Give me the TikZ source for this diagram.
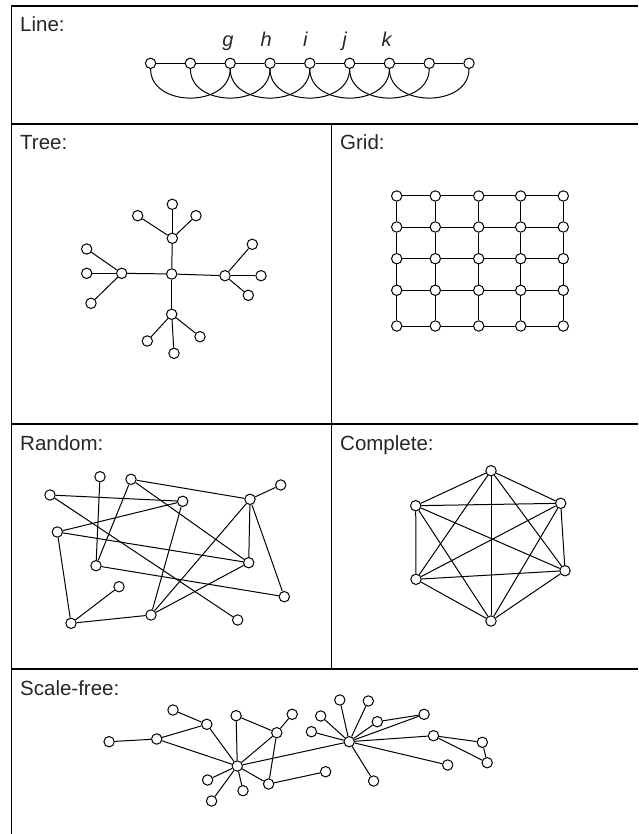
\documentclass[tikz,border=0pt]{standalone}
\usepackage{fontspec}
\setmainfont{Liberation Sans}
\begin{document}
\begin{tikzpicture}[x=1pt,y=-1pt,
  vtx/.style={circle,draw,fill=white,minimum size=10.4pt,inner sep=0pt,line width=1pt},
  edge/.style={line width=1pt},
  frame/.style={line width=1.5pt},
  lbl/.style={anchor=base west,inner sep=0pt,font=\fontsize{20.5}{24}\selectfont,text=black!85},
  ilbl/.style={anchor=base,inner sep=0pt,font=\fontsize{20}{24}\selectfont\itshape,text=black!85}]
\useasboundingbox (0,0) rectangle (638,834);
% frame
\draw[frame] (638,6) -- (11.7,6) -- (11.7,834);
\draw[frame] (11.7,124) -- (638,124);
\draw[frame] (11.7,424) -- (638,424);
\draw[frame] (11.7,669) -- (638,669);
\draw[frame] (331.5,124) -- (331.5,669);
% titles
\node[lbl] (tline) at (20,32) {Line:};
\node[lbl] (ttree) at (20,150) {Tree:};
\node[lbl] (tgrid) at (340,150) {Grid:};
\node[lbl] (trand) at (20,450) {Random:};
\node[lbl] (tcomp) at (340,450) {Complete:};
\node[lbl] (tscal) at (20,695) {Scale-free:};
% ---------- Line ----------
\foreach \i in {1,...,9} \node[vtx] (l\i) at ({150.6+39.8*(\i-1)},63.3) {};
\foreach \i/\j in {1/2,2/3,3/4,4/5,5/6,6/7,7/8,8/9} \draw[edge] (l\i) -- (l\j);
\foreach \i/\j in {1/3,2/4,3/5,4/6,5/7,6/8,7/9} \draw[edge] (l\i) to[out=-90,in=-90,looseness=1.25] (l\j);
\node[ilbl] (lg) at (227.9,47) {g};
\node[ilbl] (lh) at (266.2,47) {h};
\node[ilbl] (li) at (305.3,47) {i};
\node[ilbl] (lj) at (344.6,47) {j};
\node[ilbl] (lk) at (386.5,47) {k};
% ---------- Tree ----------
\node[vtx] (t0) at (171.7,274) {};
\node[vtx] (ta) at (172.3,238.3) {};
\node[vtx] (ta1) at (172.3,204.3) {};
\node[vtx] (ta2) at (137.7,215.7) {};
\node[vtx] (ta3) at (196,215.7) {};
\node[vtx] (tb) at (121.7,273.3) {};
\node[vtx] (tb1) at (86.7,249) {};
\node[vtx] (tb2) at (86.7,273.3) {};
\node[vtx] (tb3) at (91,303.3) {};
\node[vtx] (tc) at (225,275.7) {};
\node[vtx] (tc1) at (252.3,244.3) {};
\node[vtx] (tc2) at (261,275.7) {};
\node[vtx] (tc3) at (248.3,295.3) {};
\node[vtx] (td) at (171.7,314.3) {};
\node[vtx] (td1) at (147.3,341) {};
\node[vtx] (td2) at (174,353.3) {};
\node[vtx] (td3) at (200,336.7) {};
\foreach \c in {a,b,c,d} {
  \draw[edge] (t0) -- (t\c);
  \foreach \k in {1,2,3} \draw[edge] (t\c) -- (t\c\k);
}
% ---------- Grid ----------
\foreach \x [count=\c] in {396.7,435.3,478.7,520.7,563.3}
  \foreach \y [count=\r] in {196,227,258.7,290.3,326}
    \node[vtx] (g\c\r) at (\x,\y) {};
\foreach \c in {1,...,5}
  \foreach \r/\s in {1/2,2/3,3/4,4/5} {
    \draw[edge] (g\c\r) -- (g\c\s);
    \draw[edge] (g\r\c) -- (g\s\c);
  }
% ---------- Random ----------
\node[vtx] (rA) at (50,495) {};
\node[vtx] (rB) at (100,476.7) {};
\node[vtx] (rC) at (131,479.3) {};
\node[vtx] (rD) at (182.7,501.3) {};
\node[vtx] (rE) at (57.3,532) {};
\node[vtx] (rF) at (96,565.7) {};
\node[vtx] (rG) at (119,586.7) {};
\node[vtx] (rH) at (71,623.3) {};
\node[vtx] (rI) at (151,615) {};
\node[vtx] (rJ) at (237.7,620) {};
\node[vtx] (rK) at (250,499.3) {};
\node[vtx] (rL) at (280.7,485) {};
\node[vtx] (rM) at (248.7,562.7) {};
\node[vtx] (rN) at (284.3,596.7) {};
\foreach \a/\b in {A/D,A/J,B/F,C/F,C/K,C/M,D/E,D/I,E/M,E/H,F/N,G/H,H/I,I/K,I/M,K/L,K/M,K/N}
  \draw[edge] (r\a) -- (r\b);
% ---------- Complete ----------
\node[vtx] (k1) at (491,470.7) {};
\node[vtx] (k2) at (560.7,503.3) {};
\node[vtx] (k3) at (565,570.7) {};
\node[vtx] (k4) at (491,621) {};
\node[vtx] (k5) at (416,579.3) {};
\node[vtx] (k6) at (415.7,505.7) {};
\foreach \a/\b in {1/2,1/3,1/4,1/5,1/6,2/3,2/4,2/5,2/6,3/4,3/5,3/6,4/5,4/6,5/6}
  \draw[edge] (k\a) -- (k\b);
% ---------- Scale-free ----------
\node[vtx] (h1) at (237.3,766) {};
\node[vtx] (h2) at (349.2,741.7) {};
\node[vtx] (p1) at (109.1,741.7) {};
\node[vtx] (p2) at (156.7,739) {};
\node[vtx] (p3) at (173,710) {};
\node[vtx] (p4) at (206.8,724.3) {};
\node[vtx] (p5) at (236.1,715.7) {};
\node[vtx] (p6) at (292.2,714.3) {};
\node[vtx] (p7) at (276.8,732.7) {};
\node[vtx] (p8) at (207.6,780) {};
\node[vtx] (p9) at (211.6,801) {};
\node[vtx] (p10) at (243,790.7) {};
\node[vtx] (p11) at (268.6,784) {};
\node[vtx] (p12) at (325.6,771.7) {};
\node[vtx] (q1) at (320.7,716) {};
\node[vtx] (q2) at (339.8,700) {};
\node[vtx] (q3) at (368.3,701) {};
\node[vtx] (q4) at (311.4,731.7) {};
\node[vtx] (q5) at (377.3,721.7) {};
\node[vtx] (q6) at (424.1,714.3) {};
\node[vtx] (q7) at (433.5,735.7) {};
\node[vtx] (q8) at (482.3,742.3) {};
\node[vtx] (q9) at (487.2,762.7) {};
\node[vtx] (q10) at (447.7,765) {};
\node[vtx] (q11) at (373.6,781) {};
\foreach \a/\b in {p1/p2,p2/p4,p3/p4,p2/h1,p4/h1,p5/h1,p5/p7,p6/p7,p7/h1,p7/p11,h1/p8,h1/p9,h1/p10,h1/p11,p11/p12,h1/h2,
  h2/q1,h2/q2,h2/q3,h2/q4,h2/q5,q5/q6,h2/q6,h2/q7,q7/q8,q7/q9,q8/q9,h2/q10,h2/q11}
  \draw[edge] (\a) -- (\b);
\end{tikzpicture}
\end{document}
